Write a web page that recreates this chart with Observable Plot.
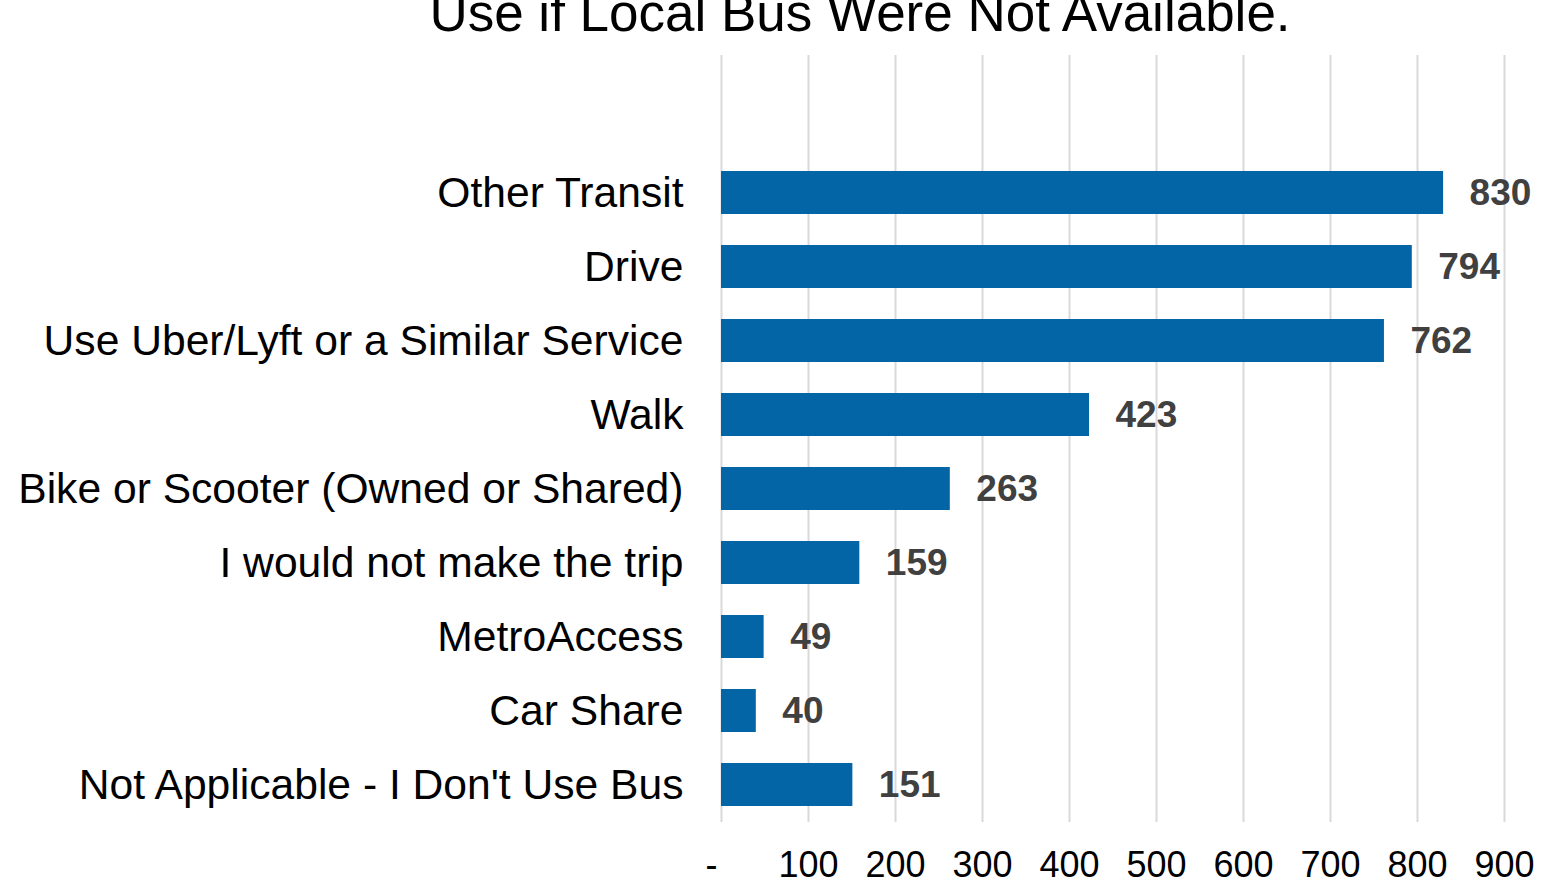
<!DOCTYPE html>
<html>
<head>
<meta charset="utf-8">
<script src="https://cdn.jsdelivr.net/npm/d3@7"></script>
<script src="https://cdn.jsdelivr.net/npm/@observablehq/plot@0.6"></script>
<style>
  html, body { margin: 0; padding: 0; background: #fff; overflow: hidden; }
  #chart svg { display: block; }
</style>
</head>
<body>
<div id="chart"></div>
<script>
const title = "Use if Local Bus Were Not Available.";
const categories = [
  "Other Transit",
  "Drive",
  "Use Uber/Lyft or a Similar Service",
  "Walk",
  "Bike or Scooter (Owned or Shared)",
  "I would not make the trip",
  "MetroAccess",
  "Car Share",
  "Not Applicable - I Don't Use Bus"
];
const values = [830, 794, 762, 423, 263, 159, 49, 40, 151];
const xTicks = [0, 100, 200, 300, 400, 500, 600, 700, 800, 900];

const data = categories.map((c, i) => ({category: c, value: values[i]}));
const FONT = "'Liberation Sans', Arial, Helvetica, sans-serif";

const chart = Plot.plot({
  width: 1562,
  height: 881,
  marginLeft: 721,
  marginRight: 58,
  marginTop: 55,
  marginBottom: 59,
  style: {fontFamily: FONT, fontSize: "36px", color: "#000", background: "#fff"},
  x: {domain: [0, 900], ticks: xTicks},
  y: {domain: categories, range: [155, 821], paddingInner: 0.42, paddingOuter: 0.21},
  marks: [
    Plot.gridX(xTicks, {stroke: "#d9d9d9", strokeOpacity: 1, strokeWidth: 2}),
    Plot.barX(data, {x: "value", y: "category", fill: "#0364a6"}),
    Plot.text(data, {
      x: "value", y: "category", text: d => String(d.value),
      textAnchor: "start", dx: 26, fontWeight: "bold", fontSize: 37, fill: "#404040"
    }),
    Plot.axisX(xTicks, {
      tickSize: 0, tickPadding: 29, fontSize: 36, fill: "#000",
      tickFormat: d => d === 0 ? "-\u00a0\u00a0" : String(d), label: null
    }),
    Plot.axisY({tickSize: 0, tickPadding: 38, fontSize: 42.6, fill: "#000", label: null})
  ]
});

d3.select(chart).append("text")
  .attr("x", 860).attr("y", 31)
  .attr("text-anchor", "middle")
  .attr("font-family", FONT)
  .attr("font-size", 53)
  .attr("fill", "#000")
  .text(title);

document.getElementById("chart").appendChild(chart);
</script>
</body>
</html>
